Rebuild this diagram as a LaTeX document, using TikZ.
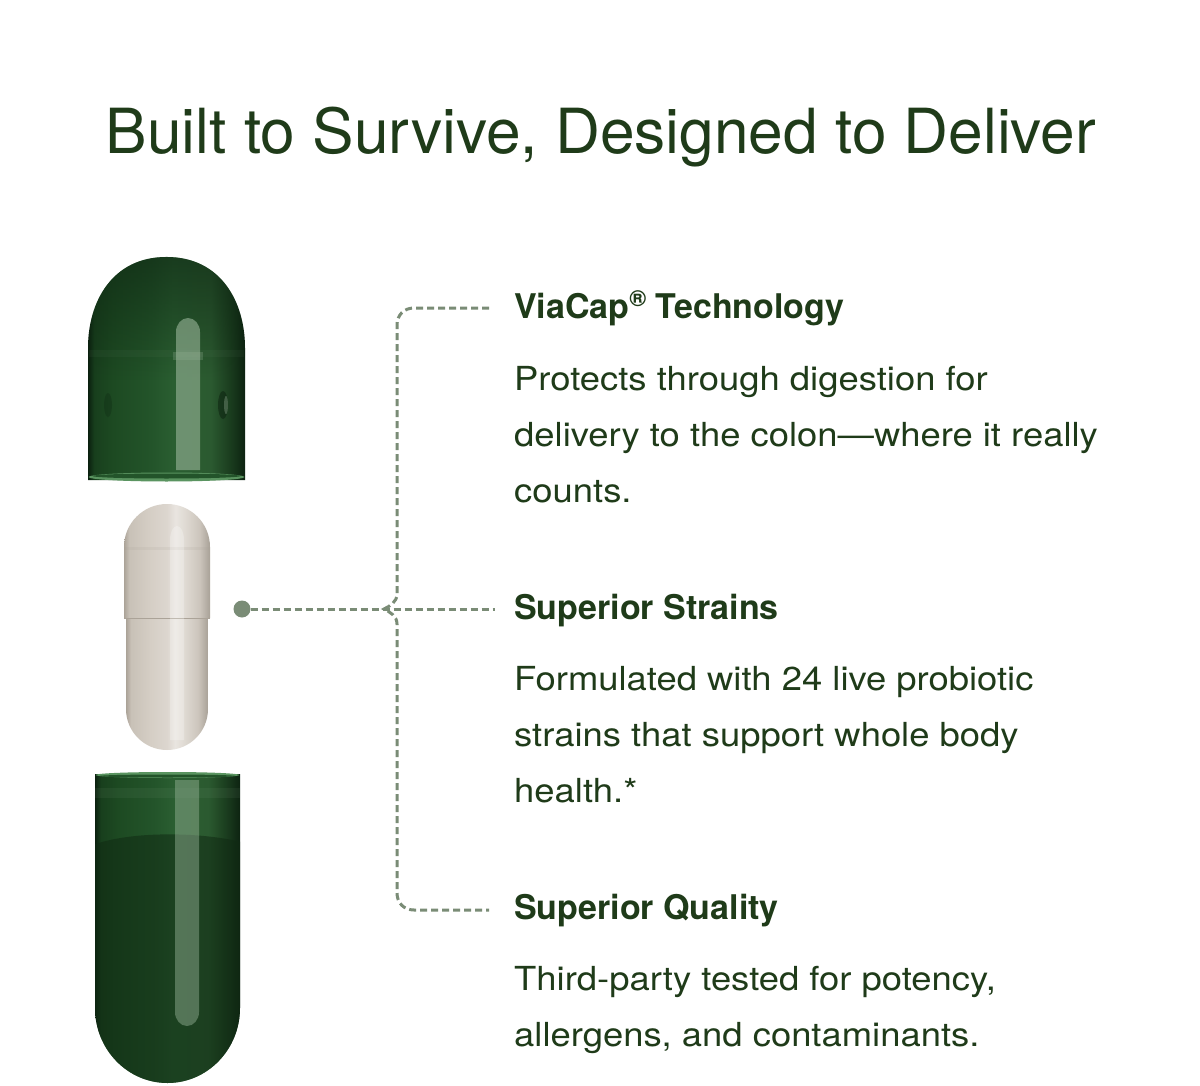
\documentclass[tikz,border=0pt]{standalone}
\usepackage{fontspec}
\setmainfont{TeX Gyre Heros}
\newfontfamily\bodyfont[FakeStretch=1.1]{TeX Gyre Heros}
\usetikzlibrary{fadings}
\definecolor{txt}{HTML}{1F3B19}
\definecolor{conncol}{HTML}{7A8C76}
% green capsule colours
\definecolor{ga}{HTML}{0B200F}
\definecolor{gb}{HTML}{183F1D}
\definecolor{gc}{HTML}{1D4A22}
\definecolor{gd}{HTML}{23542A}
\definecolor{ge}{HTML}{2A5E31}
\definecolor{gf}{HTML}{2B5A30}
\definecolor{gg}{HTML}{1B3E1F}
\definecolor{gh}{HTML}{0D2311}
\definecolor{ghl}{HTML}{9AB59A}
\definecolor{grim}{HTML}{5A9460}
\definecolor{gpowder}{HTML}{102A13}
% white capsule colours
\definecolor{wa}{HTML}{ABA398}
\definecolor{wb}{HTML}{C8C1B7}
\definecolor{wc}{HTML}{D5CEC5}
\definecolor{wd}{HTML}{DCD6CF}
\definecolor{we}{HTML}{E9E5E0}
\definecolor{wf}{HTML}{E0DBD4}
\definecolor{wg}{HTML}{CCC5BC}
\definecolor{wh}{HTML}{A8A197}
\pgfdeclarehorizontalshading{greencap}{100bp}{color(0bp)=(ga); color(25bp)=(ga); color(27bp)=(gb); color(33bp)=(gc); color(45bp)=(gd); color(52bp)=(ge); color(64bp)=(gf); color(70bp)=(gg); color(75bp)=(gh); color(100bp)=(gh)}
\pgfdeclarehorizontalshading{whitecap}{100bp}{color(0bp)=(wa); color(25bp)=(wa); color(28bp)=(wb); color(40bp)=(wc); color(50bp)=(wd); color(55bp)=(we); color(60bp)=(wf); color(69bp)=(wg); color(75bp)=(wh); color(100bp)=(wh)}
\tikzfading[name=fadedown, top color=transparent!0, bottom color=transparent!100]
\tikzset{
  titletext/.style={font=\fontsize{62.2}{70}\selectfont, text=txt, inner sep=0pt},
  headtext/.style={font=\fontsize{34}{40}\selectfont\bfseries, text=txt, inner sep=0pt, anchor=base west},
  bodytext/.style={font=\bodyfont\fontsize{33.1}{40}\selectfont, text=txt, inner sep=0pt, anchor=base west},
  conn/.style={draw=conncol, line width=3pt, dash pattern=on 7pt off 4pt},
  dotnode/.style={circle, fill=conncol, minimum size=17pt, inner sep=0pt},
  greenshade/.style={shading=greencap},
  whiteshade/.style={shading=whitecap},
}
\begin{document}
\begin{tikzpicture}[x=1pt,y=-1pt]
\useasboundingbox (0,0) rectangle (1200,1086);
\fill[white] (0,0) rectangle (1200,1086);

% ---------- title ----------
\node[titletext, anchor=base] (title) at (601,154) {Built to Survive, Designed to Deliver};

% ---------- top green cap ----------
\shade[greenshade] (88,480) -- (88,348) .. controls (88,302) and (112,257) .. (166.5,257) .. controls (221,257) and (245,302) .. (245,348) -- (245,480) -- cycle;
\fill[ga, path fading=fadedown, fill opacity=0.55] (88,380) -- (88,348) .. controls (88,302) and (112,257) .. (166.5,257) .. controls (221,257) and (245,302) .. (245,348) -- (245,380) -- cycle;
% ring
\fill[ghl, opacity=0.05] (89,350) rectangle (244,357);
% highlight stripe
\fill[ghl, opacity=0.6] (176,470) -- (176,332) arc[start angle=180, end angle=360, x radius=12, y radius=14] -- (200,470) -- cycle;
\fill[ghl, opacity=0.25] (173,352) rectangle (203,360);
% dimples
\fill[ga, opacity=0.5] (223,405) ellipse[x radius=5, y radius=14];
\fill[ghl, opacity=0.35] (226,405) ellipse[x radius=2, y radius=9];
\fill[ga, opacity=0.25] (108,405) ellipse[x radius=4, y radius=12];
% rim
\fill[grim] (166.5,477) ellipse[x radius=78, y radius=4.5];
\fill[gd] (166.5,476) ellipse[x radius=74, y radius=2.5];

% ---------- white capsule ----------
\shade[whiteshade] (126,618) -- (126,709) arc[start angle=180, end angle=0, x radius=41, y radius=41] -- (208,618) -- cycle;
\shade[whiteshade] (124,618) -- (124,547) arc[start angle=180, end angle=360, x radius=43, y radius=43] -- (210,618) -- cycle;
\fill[wh, opacity=0.15] (124,547) rectangle (210,550);
\draw[wa, line width=1pt] (124,618) -- (210,618);
\fill[white, opacity=0.25] (170,740) -- (170,540) arc[start angle=180, end angle=360, x radius=7, y radius=14] -- (184,740) -- cycle;

% ---------- bottom green capsule ----------
\shade[greenshade] (95,774) -- (95,1008) arc[start angle=180, end angle=0, x radius=72.5, y radius=75] -- (240,774) -- cycle;
\begin{scope}
  \clip (95,774) -- (95,1008) arc[start angle=180, end angle=0, x radius=72.5, y radius=75] -- (240,774) -- cycle;
  \fill[gpowder, opacity=0.55] (90,846) .. controls (130,830) and (205,832) .. (245,843) -- (245,1090) -- (90,1090) -- cycle;
  \fill[ghl, opacity=0.08] (90,788) rectangle (245,798);
\end{scope}
\fill[ghl, opacity=0.45] (175,780) -- (175,1012) arc[start angle=180, end angle=0, x radius=12, y radius=14] -- (199,780) -- cycle;
\fill[grim] (167.5,775) ellipse[x radius=72, y radius=3];
\fill[gd] (167.5,776) ellipse[x radius=68, y radius=1.5];

% ---------- texts ----------
\node[headtext] (h1) at (514,319) {ViaCap\raisebox{0.36em}{\fontsize{23}{23}\selectfont ®} Technology};
\node[bodytext] (b11) at (514,390) {Protects through digestion for};
\node[bodytext] (b12) at (514,446) {delivery to the colon—where it really};
\node[bodytext] (b13) at (514,502) {counts.};

\node[headtext] (h2) at (514,619) {Superior Strains};
\node[bodytext] (b21) at (514,690) {Formulated with 24 live probiotic};
\node[bodytext] (b22) at (514,746) {strains that support whole body};
\node[bodytext] (b23) at (514,802) {health.*};

\node[headtext] (h3) at (514,919) {Superior Quality};
\node[bodytext] (b31) at (514,990) {Third-party tested for potency,};
\node[bodytext] (b32) at (514,1046) {allergens, and contaminants.};

% ---------- connectors ----------
\node[dotnode] (dot) at (242,609) {};
\coordinate (e1) at (489,308);
\coordinate (e2) at (495,609);
\coordinate (e3) at (489,910);
\coordinate (j) at (384,609);
\draw[conn] (dot) -- (e2);
\draw[conn] (e1) -- (414,308) .. controls (404,308) and (397,315) .. (397,325) -- (397,594) .. controls (397,602) and (390,606) .. (j) .. controls (390,612) and (397,616) .. (397,624) -- (397,893) .. controls (397,903) and (404,910) .. (414,910) -- (e3);
\end{tikzpicture}
\end{document}
